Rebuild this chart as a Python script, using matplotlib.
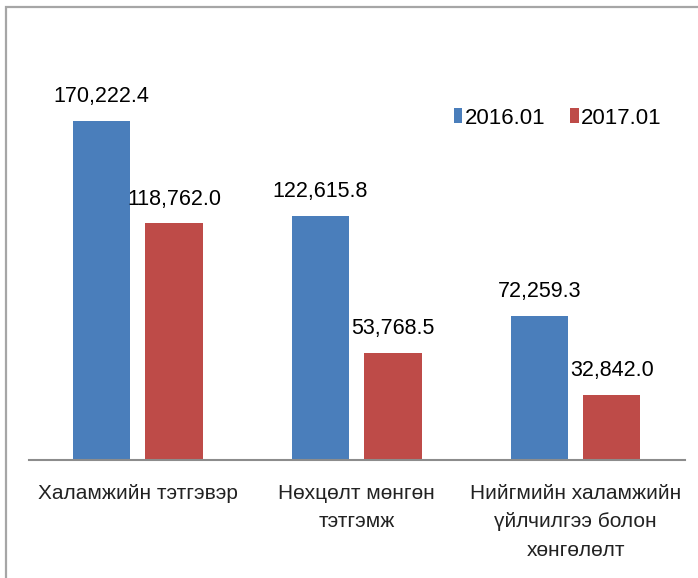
import matplotlib
matplotlib.use('Agg')
import matplotlib.pyplot as plt
from matplotlib.patches import Rectangle
import numpy as np

categories = ['Халамжийн тэтгэвэр', 'Нөхцөлт мөнгөн\nтэтгэмж',
              'Нийгмийн халамжийн\nүйлчилгээ болон\nхөнгөлөлт']
series_names = ['2016.01', '2017.01']
values_2016 = [170222.4, 122615.8, 72259.3]
values_2017 = [118762.0, 53768.5, 32842.0]
colors = ['#4a7ebb', '#be4b48']

plt.rcParams['font.family'] = ['Liberation Sans', 'DejaVu Sans']

fig = plt.figure(figsize=(6.98, 5.78), dpi=100)
# grey frame around the chart (right/bottom edges fall outside the picture)
fig.patches.append(Rectangle((6 / 698, -0.1), 1.2, (578 - 7.5) / 578 + 0.1,
                             transform=fig.transFigure, fill=False,
                             edgecolor='#a6a6a6', linewidth=1.6))

ax = fig.add_axes([28.5 / 698, 118 / 578, 656.5 / 698, 398.3 / 578])

x = np.arange(len(categories))
off = 0.1655
w = 0.262
b1 = ax.bar(x - off, values_2016, w, color=colors[0], label=series_names[0])
b2 = ax.bar(x + off, values_2017, w, color=colors[1], label=series_names[1])

for bars, vals in ((b1, values_2016), (b2, values_2017)):
    for rect, v in zip(bars, vals):
        ax.annotate(f'{v:,.1f}', (rect.get_x() + rect.get_width() / 2, v),
                    xytext=(0, 13.5), textcoords='offset points',
                    ha='center', va='baseline', fontsize=15.5, color='black')

ax.set_xlim(-0.5, 2.5)
ax.set_ylim(0, 200000)
ax.set_yticks([])
ax.set_xticks(x)
ax.set_xticklabels(categories, fontsize=15, linespacing=1.65, color='#222222')
ax.tick_params(axis='x', length=0, pad=17)
for s in ['top', 'right', 'left']:
    ax.spines[s].set_visible(False)
ax.spines['bottom'].set_color('#8c8c8c')
ax.spines['bottom'].set_linewidth(1.5)

fig.legend(loc='center left', bbox_to_anchor=(454 / 698, (578 - 118) / 578),
           bbox_transform=fig.transFigure, frameon=False, fontsize=16,
           ncol=2, handlelength=0.38, handleheight=0.65, handletextpad=0.12,
           columnspacing=1.1, borderpad=0, borderaxespad=0)

fig.savefig('out.png', dpi=100)
